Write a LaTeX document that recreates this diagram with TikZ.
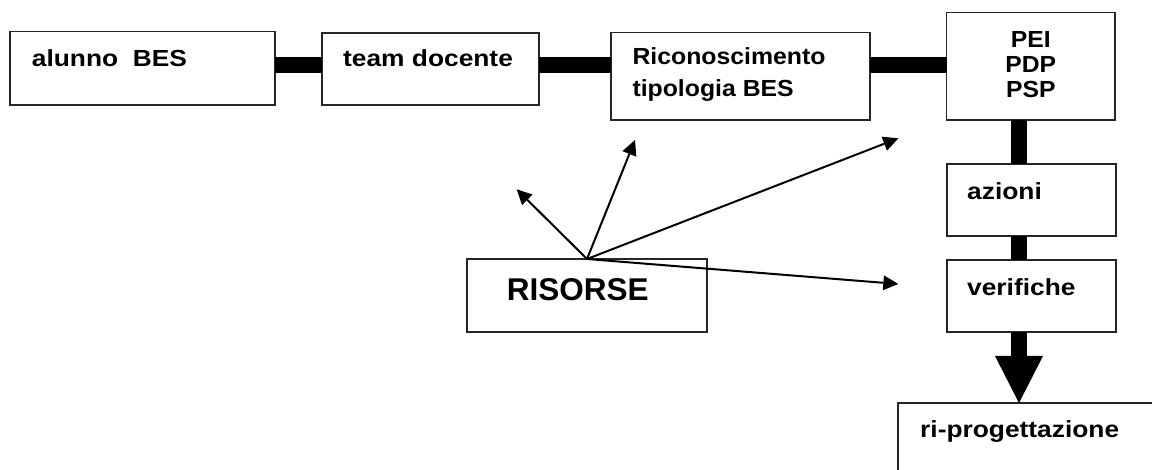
\documentclass[tikz,border=0pt]{standalone}
\usepackage{fontspec}
\setmainfont{Liberation Sans}
\newfontfamily\fA[FakeStretch=1.13]{Liberation Sans}
\newfontfamily\fB[FakeStretch=1.065]{Liberation Sans}
\newfontfamily\fC[FakeStretch=1.06]{Liberation Sans}
\usetikzlibrary{arrows.meta}
\begin{document}
\begin{tikzpicture}[x=1pt,y=-1pt,
  box/.style={draw=black!85, line width=1.3pt, inner sep=0pt, outer sep=0pt, anchor=north west},
  txt/.style={font=\fA\bfseries\fontsize{23.3}{28}\selectfont, inner sep=0pt, anchor=base west},
  txtb/.style={font=\fB\bfseries\fontsize{23.3}{28}\selectfont, inner sep=0pt, anchor=base west},
  txtc/.style={font=\fC\bfseries\fontsize{23.3}{28}\selectfont, inner sep=0pt, anchor=base},
  bigtxt/.style={font=\bfseries\fontsize{31.5}{36}\selectfont, inner sep=0pt, anchor=base west},
  hbar/.style={line width=15.5pt},
  vbar/.style={line width=16pt},
  bigarrow/.style={line width=16pt, -{Triangle[length=47pt,width=48pt,line width=0pt]}},
  rarrow/.style={line width=2pt, -{Triangle[length=15pt,width=15pt,line width=0pt]}}]
\useasboundingbox (0,0) rectangle (1152,470);
\fill[white] (0,0) rectangle (1152,470);
% boxes
\node[box, minimum width=265pt, minimum height=73.3pt] (a) at (10,31.7) {};
\node[box, minimum width=217pt, minimum height=72pt] (b) at (322,33) {};
\node[box, minimum width=259pt, minimum height=87.3pt] (c) at (611,32.7) {};
\node[box, minimum width=168.3pt, minimum height=107.7pt] (d) at (946.7,12.3) {};
\node[box, minimum width=169pt, minimum height=72pt] (e) at (947,164) {};
\node[box, minimum width=169pt, minimum height=72pt] (f) at (947,260) {};
\node[box, minimum width=280pt, minimum height=90pt] (g) at (898,403) {};
\node[box, minimum width=240pt, minimum height=73pt] (r) at (467,259) {};
% texts
\node[txt] (ta) at (31.7,66.7) {alunno\ \ BES};
\node[txt] (tb) at (343,66.7) {team docente};
\node[txtb] (tc1) at (632.3,65) {Riconoscimento};
\node[txtb] (tc2) at (632.3,96.7) {tipologia BES};
\node[txtc] (td1) at (1030.8,47.7) {PEI};
\node[txtc] (td2) at (1030.8,72.3) {PDP};
\node[txtc] (td3) at (1030.8,97.3) {PSP};
\node[txt] (te) at (967,200) {azioni};
\node[txt] (tf) at (967,295.7) {verifiche};
\node[txt] (tg) at (920,438) {ri-progettazione};
\node[bigtxt] (tr) at (506.7,300.7) {RISORSE};
% horizontal bars
\coordinate (hy) at (0,65);
\draw[hbar] (a.east |- hy) -- (b.west |- hy);
\draw[hbar] (b.east |- hy) -- (c.west |- hy);
\draw[hbar] (c.east |- hy) -- (d.west |- hy);
% vertical bars
\coordinate (vx) at (1019,0);
\draw[vbar] (d.south -| vx) -- (e.north -| vx);
\draw[vbar] (e.south -| vx) -- (f.north -| vx);
\draw[bigarrow] (f.south -| vx) -- (g.north -| vx);
% resource arrows
\coordinate (o) at (r.north);
\coordinate (t1) at (516.7,189.3);
\coordinate (t2) at (635,140);
\coordinate (t3) at (898.3,138.3);
\coordinate (t4) at (898.3,284);
\draw[rarrow] (o) -- (t1);
\draw[rarrow] (o) -- (t2);
\draw[rarrow] (o) -- (t3);
\draw[rarrow] (o) -- (t4);
\end{tikzpicture}
\end{document}
